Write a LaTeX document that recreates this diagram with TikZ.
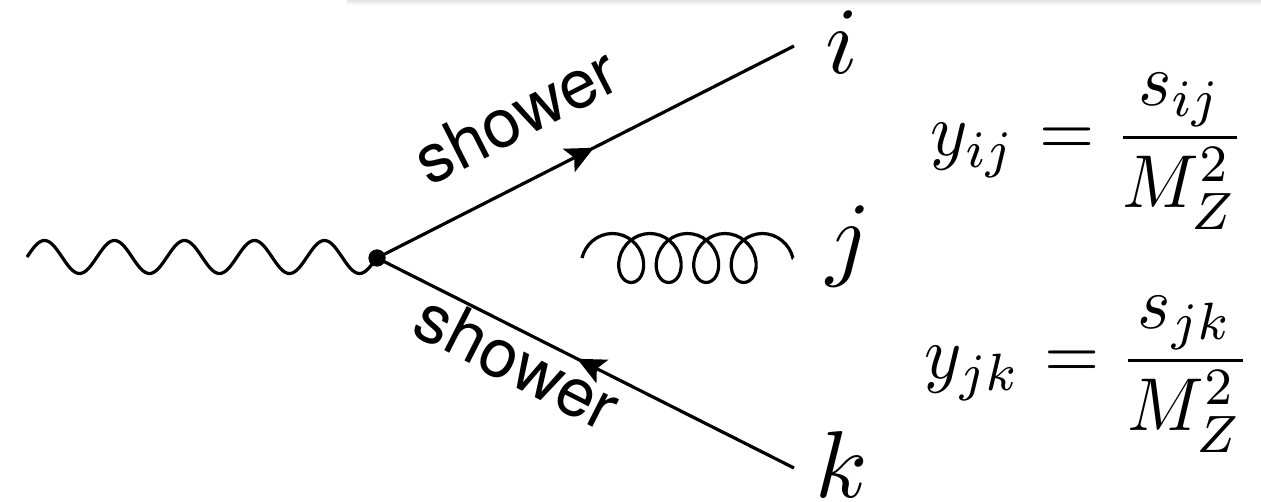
\documentclass[tikz,border=0pt]{standalone}
\usepackage{fontspec}
\newfontfamily\heros{TeX Gyre Heros}
\usetikzlibrary{decorations.pathmorphing,decorations.markings,arrows.meta}
\newcommand\bigtext[2]{\scalebox{#1}{#2}}
\newcommand\eqtext[1]{\scalebox{7.1}[7.5]{#1}}
\begin{document}
\begin{tikzpicture}[x=1pt,y=-1pt,
  lbl/.style={inner sep=0pt, anchor=base west},
  eqn/.style={inner sep=0pt, anchor=base west},
  shw/.style={inner sep=0pt, anchor=base, font=\heros},
  prop/.style={line width=3.2pt, draw=black},
  fermion/.style={prop, postaction={decorate}, decoration={markings, mark=at position 0.52 with {\arrow{Stealth[length=28pt,width=26pt,inset=6pt]}}}},
  gluon/.style={prop, decorate, decoration={coil, segment length=37.5pt, amplitude=24.5pt, aspect=0.86}},
]
\useasboundingbox (0,0) rectangle (1261,502);
\shade[top color=gray!22, bottom color=white] (347,0) rectangle (1261,5);

\coordinate (w) at (27,257);
\coordinate (ie) at (794,46);
\coordinate (ke) at (794,468);
\coordinate (g1) at (582,258);
\coordinate (g2) at (793,258);
\node[circle, fill=black, inner sep=0pt, minimum size=17pt] (v) at (377,258) {};

% photon: five full periods from (w) to the vertex (v)
\draw[prop, shift={(w)}] plot[domain=0:350, samples=250, smooth] (\x, {-16.5*sin(\x*5.142857)});
\draw[fermion] (v.center) -- (ie);
\draw[fermion] (ke) -- (v.center);
\draw[gluon] (g1) -- (g2);
\node[circle, fill=black, inner sep=0pt, minimum size=17pt] at (v.center) {};

\node[shw, rotate=27] (s1) at (527,137) {\bigtext{6.8}{shower}};
\node[shw, rotate=-27] (s2) at (507,383) {\bigtext{6.8}{shower}};

\node[lbl] (li) at (825,74) {\bigtext{9.5}{$i$}};
\node[lbl] (lj) at (826,269) {\bigtext{9.5}{$j$}};
\node[lbl] (lk) at (815,497) {\bigtext{9.5}{$k$}};

\node[eqn] (e1) at (930.5,156) {\eqtext{$\displaystyle y_{ij} \mkern1mu = \frac{s_{ij}}{M_Z^2}$}};
\node[eqn] (e2) at (924.5,379) {\eqtext{$\displaystyle y_{jk} \mkern1mu = \frac{s_{jk}}{M_Z^2}$}};
\end{tikzpicture}
\end{document}
